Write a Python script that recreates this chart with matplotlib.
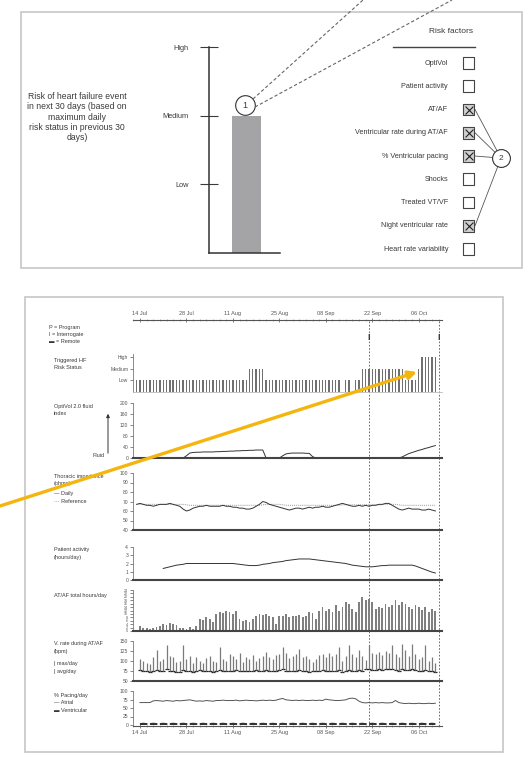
import numpy as np
import pandas as pd
import matplotlib
matplotlib.use('Agg')
import matplotlib.pyplot as plt
from matplotlib.patches import Rectangle

plt.rcParams['font.family'] = ['Liberation Sans', 'DejaVu Sans']

W, H = 531, 779
nan = np.nan
TXT = '#3a3a3a'

# ---------------- top panel data ----------------
risk_levels = ['Low', 'Medium', 'High']
risk_30d = [2]            # maximum daily risk status in previous 30 days (Medium)
risk_factors = ['OptiVol', 'Patient activity', 'AT/AF', 'Ventricular rate during AT/AF',
                '% Ventricular pacing', 'Shocks', 'Treated VT/VF', 'Night ventricular rate',
                'Heart rate variability']
risk_checked = [0, 0, 1, 1, 1, 0, 0, 1, 0]

# ---------------- trend data (one value per day, 12 Jul - 12 Oct) ----------------
dates = pd.date_range('2011-07-12', '2011-10-12')
interrogations = ['2011-09-21', '2011-10-12']

risk_status = [
    0, 1, 1, 1, 1, 1, 1, 1, 1, 1,
    1, 1, 1, 1, 1, 1, 1, 1, 1, 1,
    1, 1, 1, 1, 1, 1, 1, 1, 1, 1,
    1, 1, 1, 1, 1, 2, 2, 2, 2, 2,
    1, 1, 1, 1, 1, 1, 1, 1, 1, 1,
    1, 1, 1, 1, 1, 1, 1, 1, 1, 1,
    1, 1, 1, 0, 1, 1, 0, 1, 1, 2,
    2, 2, 2, 2, 2, 2, 2, 2, 2, 2,
    2, 2, 1, 1, 1, 1, 2, 3, 3, 3,
    3, 3, 0]

optivol = [
    0, 0, 0, 0, 0, 0, 0, 0, 0, 0,
    0, 0, 0, 0, 0, 0, 8, 18, 20, 21,
    21, 22, 22, 22, 22, 23, 23, 24, 24, 25,
    25, 26, 26, 27, 27, 28, 28, 29, 29, 29,
    0, 0, 0, 0, 0, 8, 15, 17, 18, 18,
    18, 18, 17, 17, 5, 0, 0, 0, 0, 0,
    0, 0, 0, 0, 0, 0, 0, 0, 0, 0,
    0, 0, 0, 0, 0, 0, 0, 0, 0, 0,
    0, 4, 10, 16, 20, 24, 28, 31, 35, 38,
    42, 45, nan]

imp_daily = [
    nan, 67, 68, 67, 66, 66, 65, 66, 67, 67,
    67, 68, 67, 66, 65, 62, 60, 61, 63, 64,
    65, 65, 66, 65, 65, 65, 65, 66, 65, 65,
    64, 64, 63, 63, 62, 62, 63, 65, 67, 70,
    69, 67, 66, 65, 64, 63, 62, 61, 62, 63,
    63, 62, 63, 64, 63, 64, 64, 65, 64, 64,
    65, 66, 67, 68, 67, 66, 65, 65, 66, 65,
    66, 65, 66, 66, 67, 67, 68, 68, 66, 64,
    62, 61, 62, 63, 62, 62, 62, 61, 61, 62,
    61, 60, nan]

imp_ref = [
    nan, 67, 67, 67, 67, 67, 67, 67, 67, 67,
    67, 67, 67, 67, 67, 67, 66.5, 66, 66, 66,
    66, 66, 66, 66, 66, 66, 66, 66, 66, 66,
    66, 66, 66, 66, 66, 66, 66, 66, 66, 66.5,
    67, 67, 67, 67, 67, 66.5, 66, 66, 66, 66,
    66, 66, 66, 66, 66, 66, 66, 66, 66, 66,
    66, 66, 66, 66.5, 66.5, 66.5, 66.5, 66.5, 66.5, 66.5,
    66.5, 66.5, 66.5, 66.5, 66.5, 66.5, 67, 67, 67, 67,
    66.5, 66, 66, 66, 66, 66, 66, 66, 66, 66,
    66, 66, nan]

activity = [
    nan, nan, nan, nan, nan, nan, nan, nan, nan, 1.4,
    1.5, 1.6, 1.7, 1.8, 1.85, 1.9, 2.0, 2.0, 2.0, 2.0,
    2.0, 2.0, 2.0, 2.0, 2.0, 2.0, 2.0, 2.0, 2.0, 2.0,
    2.0, 1.95, 1.9, 1.85, 1.8, 1.75, 1.75, 1.75, 1.8, 1.9,
    1.95, 2.0, 2.1, 2.15, 2.2, 2.25, 2.35, 2.4, 2.45, 2.5,
    2.55, 2.55, 2.55, 2.55, 2.5, 2.45, 2.4, 2.35, 2.3, 2.25,
    2.2, 2.15, 2.1, 2.05, 2.0, 1.9, 1.8, 1.75, 1.7, 1.65,
    1.6, 1.6, 1.6, 1.65, 1.7, 1.75, 1.75, 1.8, 1.8, 1.8,
    1.8, 1.8, 1.8, 1.8, 1.8, 1.7, 1.55, 1.4, 1.25, 1.1,
    0.95, 0.85, nan]

atf_hours = [
    0, 0, 3, 2, 1.5, 1, 2, 2.5, 3, 4,
    3.5, 4.5, 4, 3.5, 1.5, 2, 1, 2.5, 1, 3,
    7, 6.5, 8, 7, 5.5, 10, 11, 10.5, 12, 11,
    10, 12, 7, 6, 6.5, 5, 7, 9, 10, 9.5,
    10, 9, 8, 4, 9, 8.5, 10, 8, 9, 8.5,
    9.5, 8, 9, 11, 10.5, 7, 11.5, 14, 12, 13,
    11, 15, 12, 14, 17, 16, 13, 11, 17, 20,
    18, 19, 17, 13, 14, 13.5, 16, 14, 15, 18,
    15, 17, 16, 14, 13, 15, 14, 12.5, 14, 11,
    13, 12, 0]

vrate_max = [
    nan, nan, 105, 100, 95, 92, 110, 127, 100, 105,
    140, 112, 110, 98, 100, 140, 105, 112, 96, 110,
    100, 95, 108, 112, 100, 98, 135, 104, 99, 118,
    112, 105, 120, 98, 110, 104, 115, 100, 108, 112,
    123, 110, 104, 115, 118, 135, 120, 108, 112, 118,
    130, 110, 112, 106, 98, 104, 115, 118, 110, 120,
    112, 118, 135, 100, 112, 140, 118, 110, 127, 112,
    102, 140, 120, 118, 123, 116, 125, 120, 140, 118,
    110, 142, 128, 112, 143, 118, 105, 110, 140, 100,
    110, 95, nan]

vrate_avg = [
    nan, nan, 78, 76, 74, 73, 75, 77, 74, 76,
    79, 75, 74, 72, 73, 78, 76, 75, 73, 74,
    77, 75, 74, 76, 73, 75, 78, 76, 74, 75,
    76, 77, 75, 74, 76, 75, 74, 77, 76, 75,
    78, 76, 74, 75, 77, 79, 76, 75, 74, 76,
    78, 75, 74, 73, 74, 76, 75, 77, 74, 76,
    75, 74, 77, 73, 74, 78, 76, 75, 77, 76,
    79, 80, 78, 77, 79, 78, 80, 79, 81, 78,
    76, 79, 78, 77, 80, 78, 76, 75, 77, 74,
    75, 73, nan]

pace_atrial = [
    nan, nan, 66, 66, 66, 66, 71, 72, 71, 70,
    72, 71, 70, 72, 71, 72, 73, 74, 72, 70,
    71, 70, 72, 71, 70, 72, 72, 73, 72, 72,
    72, 73, 71, 72, 73, 72, 72, 71, 72, 73,
    72, 73, 72, 73, 76, 78, 74, 73, 72, 73,
    72, 73, 72, 72, 73, 72, 73, 72, 76, 74,
    73, 72, 72, 73, 74, 78, 79, 77, 70, 66,
    65, 66, 65, 66, 65, 66, 65, 65, 66, 72,
    66, 64, 63, 64, 63, 63, 64, 63, 63, 64,
    63, 64, nan]

pace_vent = [
    nan, nan, 2, 3, 2, 2, 3, 2, 2, 3,
    2, 2, 3, 2, 2, 3, 2, 2, 3, 2,
    2, 3, 2, 2, 3, 2, 2, 3, 2, 2,
    3, 2, 2, 3, 2, 2, 3, 2, 2, 3,
    2, 2, 3, 2, 2, 3, 2, 2, 3, 2,
    2, 3, 2, 2, 3, 2, 2, 3, 2, 2,
    3, 2, 2, 3, 2, 2, 3, 2, 2, 3,
    2, 2, 3, 2, 2, 3, 2, 2, 3, 2,
    2, 3, 2, 2, 3, 2, 2, 3, 2, 2,
    3, 2, nan]

x = np.arange(len(dates))
tick_idx = x[2::14]
tick_lab = [d.strftime('%d %b') for d in dates[2::14]]
int_idx = [dates.get_loc(pd.Timestamp(d)) for d in interrogations]

fig = plt.figure(figsize=(W / 100, H / 100), dpi=100)


def px_axes(x0, y0, x1, y1, z=1):
    a = fig.add_axes([x0 / W, 1 - y1 / H, (x1 - x0) / W, (y1 - y0) / H], zorder=z)
    a.patch.set_alpha(0)
    return a


# ---------------- top panel: risk bar ----------------
bax = px_axes(209, 47, 280, 253, z=2)
bax.bar([0.528], risk_30d, width=0.41, color='#a4a4a6')
bax.set_xlim(0, 1)
bax.set_ylim(0, 3)
bax.set_xticks([])
bax.set_yticks([1, 2, 3])
bax.set_yticklabels(risk_levels)
bax.tick_params(axis='y', direction='inout', length=13, width=0.8, pad=8, labelsize=5.3, colors=TXT)
for s in ['top', 'right']:
    bax.spines[s].set_visible(False)
for s in ['left', 'bottom']:
    bax.spines[s].set_linewidth(1.1)
    bax.spines[s].set_color('#333')
bax.scatter([0.507], [2.155], s=200, facecolor='white', edgecolor='#333', lw=0.8, zorder=5, clip_on=False)
bax.text(0.507, 2.155, '1', ha='center', va='center', fontsize=6.5, color=TXT, zorder=6)

# ---------------- top panel: risk factors ----------------
rax = px_axes(360, 52, 520, 260, z=2)
rax.set_xlim(360, 520)
rax.set_ylim(8.47, -0.473)
rax.axis('off')
ky = np.arange(len(risk_factors))
for k, name in zip(ky, risk_factors):
    rax.text(448, k, name, ha='right', va='center', fontsize=5.2, color=TXT)
chk = np.array(risk_checked) == 1
rax.scatter(np.full(len(ky), 468.5), ky, marker='s', s=72, facecolor=np.where(chk, '#d0d0d0', 'white'),
            edgecolor='#444', lw=0.8, zorder=3)
rax.scatter(np.full(chk.sum(), 468.5), ky[chk], marker='x', s=32, color='#222', lw=0.8, zorder=4)
for k in ky[chk]:
    rax.plot([475, 501], [k, 4.09], color='#555', lw=0.6, zorder=2)
rax.scatter([501], [4.09], s=165, facecolor='white', edgecolor='#333', lw=0.8, zorder=5)
rax.text(501, 4.09, '2', ha='center', va='center', fontsize=6, color=TXT, zorder=6)

# ---------------- trend panels ----------------
tax = px_axes(133, 320, 442, 726, z=1)
tax.set_xlim(-0.1, 93)
tax.set_ylim(0, 1)
tax.set_yticks([])
for s in ['left', 'right']:
    tax.spines[s].set_visible(False)
for s in ['top', 'bottom']:
    tax.spines[s].set_linewidth(0.8)
    tax.spines[s].set_color('#555')
tax.set_xticks(tick_idx)
tax.set_xticklabels(tick_lab)
tax.set_xticks(x[::2], minor=True)
tax.tick_params(axis='x', which='major', top=True, labeltop=True, bottom=True, labelbottom=True,
                direction='inout', length=3, width=0.5, labelsize=4, colors='#555', pad=1.5)
tax.tick_params(axis='x', which='minor', top=True, bottom=True, direction='inout', length=1.5,
                width=0.4, colors='#777')
for xi in int_idx:
    tax.axvline(xi, color='#555', lw=0.6, ls=(0, (2, 2)))
    tax.text(xi, 0.958, 'I', ha='center', va='center', fontsize=6.5, fontweight='bold', color='#333')


def trend_axes(y0, y1, ylim, yticks, ylabels=None, thick=True, size=3.6):
    a = px_axes(133, y0, 442, y1, z=2)
    a.set_xlim(-0.1, 93)
    a.set_ylim(*ylim)
    for s in ['top', 'right']:
        a.spines[s].set_visible(False)
    a.spines['left'].set_color('#777')
    a.spines['left'].set_linewidth(0.6)
    if thick:
        a.spines['bottom'].set_color('#444')
        a.spines['bottom'].set_linewidth(1.5)
    else:
        a.spines['bottom'].set_color('#bbb')
        a.spines['bottom'].set_linewidth(0.6)
    a.set_xticks([])
    a.set_yticks(yticks)
    a.set_yticklabels(ylabels if ylabels is not None else [str(t) for t in yticks])
    a.tick_params(axis='y', length=2, width=0.5, pad=1.5, labelsize=size, colors='#555')
    return a


ax1 = trend_axes(354, 392, (0, 3.3), [1, 2, 3], risk_levels, thick=False)
ax1.bar(x, risk_status, width=0.4, color='#707070')

ax2 = trend_axes(403, 458, (0, 200), [0, 40, 80, 120, 160, 200])
ax2.plot(x, optivol, color='#333', lw=0.7)

ax3 = trend_axes(473, 530, (40, 100), [40, 50, 60, 70, 80, 90, 100])
ax3.plot(x, imp_ref, color='#999', lw=0.7, ls=(0, (1, 1)))
ax3.plot(x, imp_daily, color='#333', lw=0.7)

ax4 = trend_axes(547, 580, (0, 4), [0, 1, 2, 3, 4])
ax4.plot(x, activity, color='#333', lw=0.7)

ax5 = trend_axes(590, 631, (0, 24), list(range(0, 25, 2)), size=2.6)
ax5.bar(x, atf_hours, width=0.55, color='#808080')

ax6 = trend_axes(641, 681, (50, 150), [50, 75, 100, 125, 150])
ax6.vlines(x, vrate_avg, vrate_max, color='#7a7a7a', lw=0.9)
ax6.scatter(x, vrate_avg, marker='_', s=6, color='#222', lw=0.9)

ax7 = trend_axes(691, 725, (0, 100), [0, 25, 50, 75, 100])
ax7.spines['bottom'].set_visible(False)
ax7.plot(x, pace_atrial, color='#555', lw=0.7)
ax7.plot(x, pace_vent, color='#333', lw=1.8, ls=(0, (3, 1)))

# ---------------- overlay: boxes, labels, arrow ----------------
ov = fig.add_axes([0, 0, 1, 1], zorder=10)
ov.set_xlim(0, W)
ov.set_ylim(H, 0)
ov.axis('off')
ov.patch.set_alpha(0)

ov.add_patch(Rectangle((21, 12), 501, 256, fill=False, edgecolor='#c6c6c6', lw=1.2))
ov.add_patch(Rectangle((25, 297), 478, 455, fill=False, edgecolor='#c6c6c6', lw=1.2))

ov.text(77, 117, 'Risk of heart failure event\nin next 30 days (based on\nmaximum daily\nrisk status in previous 30\ndays)',
        ha='center', va='center', fontsize=6.2, color=TXT, linespacing=1.15)
ov.text(473, 31, 'Risk factors', ha='right', va='center', fontsize=6, color=TXT)
ov.plot([393, 475], [47, 47], color='#444', lw=1)
ov.plot([253, 363], [99, 0], color='#666', lw=0.8, ls=(0, (3, 2)), clip_on=False)
ov.plot([255, 452], [107, 0], color='#666', lw=0.8, ls=(0, (3, 2)), clip_on=False)

lab = dict(ha='left', va='center', fontsize=4, color=TXT)
ov.text(49, 327, 'P = Program', **lab)
ov.text(49, 334, 'I = Interrogate', **lab)
ov.text(49, 341, '▬ = Remote', **lab)
ov.text(54, 360, 'Triggered HF', **lab)
ov.text(54, 367, 'Risk Status', **lab)
ov.text(54, 406, 'OptiVol 2.0 fluid', **lab)
ov.text(54, 413, 'index', **lab)
ov.text(105, 455, 'Fluid', ha='right', va='center', fontsize=4, color=TXT)
ov.annotate('', xy=(108, 411), xytext=(108, 456),
            arrowprops=dict(arrowstyle='-|>', color='#333', lw=0.7, mutation_scale=5))
ov.text(54, 476, 'Thoracic impedance', **lab)
ov.text(54, 483, '(ohms)', **lab)
ov.text(54, 493, '— Daily', **lab)
ov.text(54, 501, '··· Reference', **lab)
ov.text(54, 550, 'Patient activity', **lab)
ov.text(54, 558, '(hours/day)', **lab)
ov.text(54, 595, 'AT/AF total hours/day', **lab)
ov.text(54, 643, 'V. rate during AT/AF', **lab)
ov.text(54, 651, '(bpm)', **lab)
ov.text(54, 663, '| max/day', **lab)
ov.text(54, 671, '| avg/day', **lab)
ov.text(54, 695, '% Pacing/day', **lab)
ov.text(54, 703, '— Atrial', **lab)
ov.text(54, 711, '▬ Ventricular', **lab)

ov.annotate('', xy=(417, 372), xytext=(0, 506),
            arrowprops=dict(arrowstyle='-|>', color='#f5b50f', lw=2.4, mutation_scale=12,
                            shrinkA=0, shrinkB=0))

fig.savefig('out.png', dpi=100)
